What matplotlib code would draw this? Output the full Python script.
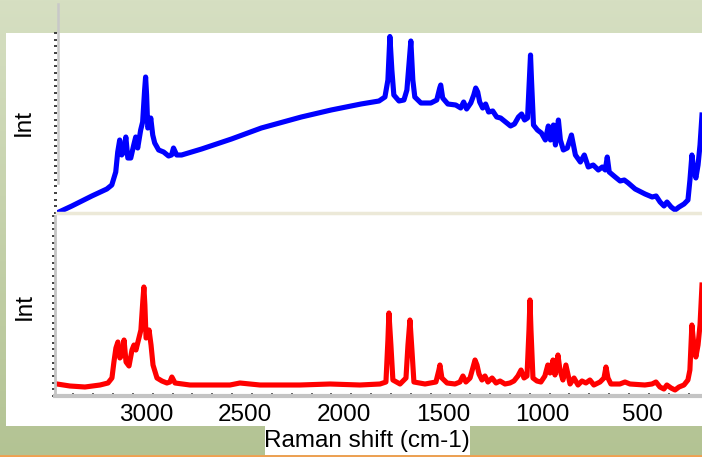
import matplotlib.pyplot as plt
import numpy as np
from matplotlib.ticker import MultipleLocator, AutoMinorLocator
from matplotlib.transforms import ScaledTranslation
from matplotlib.patches import Rectangle
from matplotlib.lines import Line2D
from matplotlib.colors import LinearSegmentedColormap

plt.rcParams['font.family'] = ['Liberation Sans', 'DejaVu Sans']

# raw spectrum (with fluorescence background)
raw_shift = [3383, 3318, 3217, 3141, 3116, 3096, 3086, 3076, 3066, 3055, 3045, 3035, 3020,
             3005, 2995, 2985, 2970, 2960, 2950, 2945, 2940, 2934, 2924, 2919, 2909, 2899,
             2879, 2854, 2829, 2814, 2804, 2788, 2763, 2662, 2511, 2360, 2158, 2007, 1856,
             1765, 1735, 1720, 1710, 1700, 1690, 1664, 1639, 1624, 1604, 1594, 1584, 1553,
             1503, 1473, 1458, 1453, 1443, 1417, 1377, 1352, 1337, 1322, 1301, 1286, 1276,
             1266, 1256, 1241, 1226, 1211, 1190, 1170, 1150, 1125, 1100, 1080, 1060, 1044,
             1029, 1014, 1004, 999, 994, 984, 964, 944, 924, 909, 898, 883, 873, 858, 848,
             833, 813, 792, 772, 747, 727, 707, 682, 656, 636, 621, 611, 601, 571, 546, 525,
             505, 470, 420, 384, 364, 344, 324, 309, 288, 268, 248, 223, 203, 193, 183, 173,
             163, 152, 142, 132]
raw_int = [10, 70, 170, 240, 280, 410, 610, 730, 580, 610, 760, 550, 550,
           680, 760, 650, 830, 910, 1230, 1360, 1180, 850, 880, 950, 780, 700,
           630, 610, 570, 580, 650, 580, 580, 640, 740, 850, 960, 1030, 1090,
           1120, 1160, 1330, 1765, 1430, 1180, 1120, 1130, 1230, 1720, 1330, 1160, 1100,
           1100, 1130, 1250, 1280, 1150, 1090, 1080, 1050, 1110, 1040, 1100, 1180, 1250,
           1210, 1110, 1050, 1090, 1010, 1020, 960, 950, 910, 870, 890, 960, 990,
           930, 950, 1380, 1580, 1330, 880, 830, 800, 730, 870, 730, 880, 680, 930, 730,
           630, 650, 780, 580, 510, 580, 460, 480, 430, 460, 430, 560, 410, 360, 320, 330,
           300, 240, 190, 160, 170, 110, 70, 110, 60, 30, 60, 90, 130, 330, 580, 430,
           350, 480, 680, 980]

# baseline-corrected spectrum
corr_shift = [3383, 3318, 3242, 3166, 3126, 3106, 3096, 3086, 3076, 3066, 3055, 3045, 3035,
              3020, 3005, 2995, 2985, 2970, 2960, 2950, 2945, 2940, 2934, 2924, 2919, 2909,
              2899, 2879, 2854, 2829, 2814, 2804, 2788, 2713, 2511, 2461, 2360, 2158, 2007,
              1856, 1755, 1725, 1715, 1710, 1700, 1690, 1654, 1624, 1614, 1604, 1594, 1584,
              1528, 1473, 1458, 1453, 1443, 1417, 1377, 1352, 1337, 1322, 1301, 1286, 1276,
              1266, 1256, 1241, 1226, 1211, 1190, 1170, 1150, 1125, 1100, 1080, 1060, 1044,
              1029, 1014, 1004, 999, 994, 984, 964, 944, 924, 909, 898, 883, 873, 858, 848,
              833, 818, 797, 777, 757, 737, 717, 697, 677, 646, 626, 616, 606, 591, 546, 520,
              495, 420, 384, 364, 344, 324, 309, 288, 268, 248, 223, 203, 193, 183, 173, 163,
              152, 142, 132]
corr_int = [120, 100, 90, 110, 130, 180, 340, 480, 540, 380, 410, 560, 340,
            300, 460, 510, 460, 580, 660, 960, 1090, 910, 580, 610, 660, 510,
            310, 180, 150, 130, 140, 190, 130, 110, 110, 130, 110, 110, 120,
            110, 120, 140, 560, 830, 510, 160, 120, 180, 510, 760, 460, 140,
            120, 140, 260, 310, 180, 130, 120, 140, 200, 140, 180, 290, 360,
            310, 220, 160, 200, 140, 180, 130, 150, 120, 130, 150, 200, 260,
            180, 200, 660, 960, 660, 180, 150, 140, 200, 310, 230, 360, 210, 410, 260,
            160, 310, 120, 180, 110, 150, 130, 160, 110, 140, 180, 290, 180, 120, 120, 140,
            120, 110, 120, 140, 90, 70, 110, 80, 60, 90, 110, 160, 260, 710, 510, 390,
            510, 710, 1110]

xticks = [3000, 2500, 2000, 1500, 1000, 500]

W, H = 702, 457
fig = plt.figure(figsize=(W / 100, H / 100), dpi=100)

# green gradient frame
bg = fig.add_axes([0, 0, 1, 1], zorder=-10)
cmap = LinearSegmentedColormap.from_list('frame', ['#b3c393', '#d6dfc2'])
bg.imshow(np.linspace(0, 1, 256).reshape(-1, 1)[::-1], cmap=cmap, aspect='auto',
          extent=(0, 1, 0, 1))
bg.add_patch(Rectangle((6 / W, (H - 426) / H), (W - 6) / W, (426 - 33) / H,
                       facecolor='white', edgecolor='none'))
bg.add_patch(Rectangle((265 / W, (H - 455) / H), 205 / W, 30 / H,
                       facecolor='white', edgecolor='none'))
bg.plot([0, 1], [1.5 / H, 1.5 / H], color='#f0a050', lw=2)
bg.set_xlim(0, 1)
bg.set_ylim(0, 1)
bg.axis('off')

xmin, xmax = 3393, 132

# top: raw spectrum
ax1 = fig.add_axes([57 / W, (H - 213) / H, (W - 57) / W, 180 / H])
ax1.patch.set_alpha(0)
ax1.plot(raw_shift, raw_int, color='#0000ff', lw=3.7, solid_joinstyle='round')
ax1.set_xlim(xmin, xmax)
ax1.set_ylim(0, 1800)
for s in ['top', 'right', 'left']:
    ax1.spines[s].set_visible(False)
ax1.spines['bottom'].set_color('#ece9d8')
ax1.spines['bottom'].set_linewidth(2.5)
ax1.set_xticks([])
ax1.yaxis.set_major_locator(MultipleLocator(400))
ax1.yaxis.set_minor_locator(AutoMinorLocator(6))
ax1.tick_params(axis='y', which='both', direction='out', length=2, width=1.3,
                color='#333333', labelleft=False)
ax1.set_ylabel('Int', fontsize=17.5, labelpad=14)

fig.add_artist(Line2D([57.5 / W, 57.5 / W], [(H - 4) / H, (H - 183) / H],
                      color='#c8c8c8', lw=1.8))

# bottom: baseline corrected
ax2 = fig.add_axes([55 / W, (H - 396) / H, (W - 55) / W, 180 / H])
ax2.patch.set_alpha(0)
ax2.plot(corr_shift, corr_int, color='#ff0000', lw=3.7, solid_joinstyle='round')
ax2.set_xlim(xmin, xmax)
ax2.set_ylim(0, 1800)
ax2.spines['top'].set_visible(False)
ax2.spines['right'].set_visible(False)
ax2.spines['left'].set_color('#c4c4c4')
ax2.spines['left'].set_linewidth(2)
ax2.spines['bottom'].set_color('#c4c4c4')
ax2.spines['bottom'].set_linewidth(3)
ax2.set_xticks(xticks)
ax2.xaxis.set_minor_locator(MultipleLocator(100))
ax2.tick_params(axis='x', which='both', direction='in', length=2, width=1.2,
                color='#444444', labelsize=17.5, pad=6)
ax2.yaxis.set_major_locator(MultipleLocator(400))
ax2.yaxis.set_minor_locator(AutoMinorLocator(6))
ax2.tick_params(axis='y', which='both', direction='out', length=2, width=1.3,
                color='#333333', labelleft=False)
ax2.set_ylabel('Int', fontsize=17.5, labelpad=12)

offset = ScaledTranslation(13 / 100, 0, fig.dpi_scale_trans)
for lab in ax2.get_xticklabels():
    lab.set_transform(lab.get_transform() + offset)

fig.text(367 / W, (H - 441) / H, 'Raman shift (cm-1)', fontsize=17.5,
         ha='center', va='center')

fig.savefig('out.png', dpi=100)
